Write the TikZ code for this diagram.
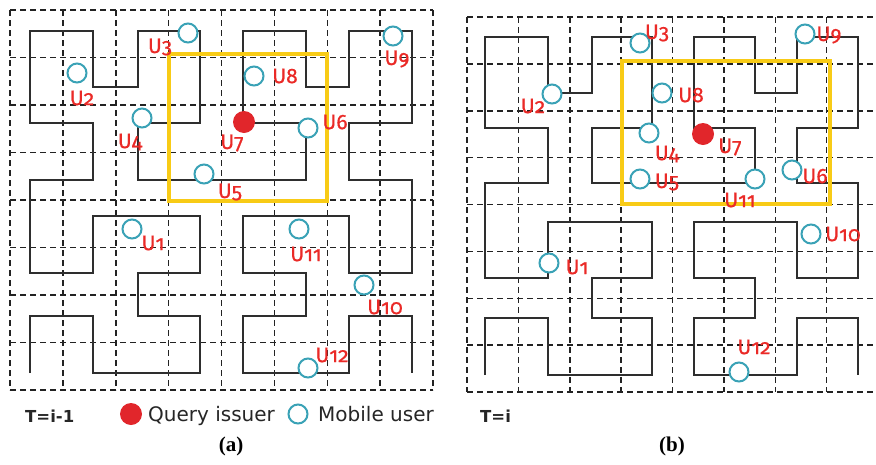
\documentclass[tikz,border=0pt]{standalone}
\usepackage{fontspec}
\setmainfont{DejaVu Sans}
\newfontfamily\labfont[Numbers=OldStyle, FakeBold=0.6]{Fira Sans}
\newfontfamily\capfont{Liberation Serif}

\definecolor{gridc}{HTML}{222222}
\definecolor{curvec}{HTML}{2E2E2E}
\definecolor{userc}{HTML}{3AA2B6}
\definecolor{issuerc}{HTML}{E1262B}
\definecolor{labc}{HTML}{EA2A27}
\definecolor{areac}{HTML}{F8CB16}

% corner points of the order-3 Hilbert curve, as column/row indices
\newcommand\hilbertpts{1/8,1/7,2/7,2/8,4/8,4/7,3/7,3/6,4/6,4/5,2/5,2/6,1/6,1/4,2/4,2/3,1/3,1/1,2/1,2/2,3/2,3/1,4/1,4/3,3/3,3/4,6/4,6/3,5/3,5/1,6/1,6/2,7/2,7/1,8/1,8/3,7/3,7/4,8/4,8/6,7/6,7/5,5/5,5/6,6/6,6/7,5/7,5/8,7/8,7/7,8/7,8/8}

\tikzset{
  gridline/.style={draw=gridc, line width=1.5pt, dash pattern=on 6pt off 4pt},
  curveline/.style={draw=curvec, line width=1.5pt, line join=miter},
  area/.style={draw=areac, line width=4.5pt},
  user/.style={circle, draw=userc, line width=2pt, fill=white, minimum size=19pt, inner sep=0pt},
  issuer/.style={circle, fill=issuerc, minimum size=22pt, inner sep=0pt},
  ulab/.style={text=labc, font=\labfont\fontsize{21}{22}\selectfont, inner sep=0pt},
  legtext/.style={font=\fontsize{20}{20}\selectfont, text=black!85, inner sep=0pt, anchor=base west},
  timetext/.style={font=\bfseries\fontsize{16.5}{18}\selectfont, text=black!85, inner sep=0pt, anchor=base west},
  captext/.style={font=\capfont\bfseries\fontsize{21}{22}\selectfont, inner sep=0pt},
}

\begin{document}
\begin{tikzpicture}[x=1pt, y=-1pt]
\useasboundingbox (0,0) rectangle (876,464);
\clip (0,0) rectangle (876,464);

% ---------------- panel (a): T = i-1 ----------------
\foreach \i in {0,...,8} {
  \draw[gridline] ({10+\i*52.875},10) -- ({10+\i*52.875},390);
  \draw[gridline] (10,{10+\i*47.5}) -- (433,{10+\i*47.5});
}
\foreach \c/\r [count=\k] in \hilbertpts {
  \pgfmathsetmacro\px{{30,93,138,200,243,306,349,412}[\c-1]}
  \pgfmathsetmacro\py{{31,87,123,180,216,273,316,373}[\r-1]}
  \coordinate (a\k) at (\px,\py);
}
\draw[curveline] (a1) \foreach \k in {2,...,52} { -- (a\k) };
\draw[area] (169,54) rectangle (327,201);

\foreach \n/\x/\y/\lx/\ly in {
  3/188/33/160/47, 2/77/73/82/98, 8/254/76/285/76, 9/393/36/397/59,
  4/142/118/130/142, 6/308/128/335/122, 5/204/174/230/192,
  1/132/229/153/243, 11/299/229/306/254, 10/364/285/385/307,
  12/308/368/332/355} {
  \node[user] (ua\n) at (\x,\y) {};
  \node[ulab] (la\n) at (\lx,\ly) {U\n};
}
\node[issuer] (ua7) at (244,122) {};
\node[ulab] (la7) at (232,143) {U7};

% legend
\node[timetext] (ta) at (25,422) {T=i-1};
\node[issuer] (legq) at (131,414) {};
\node[legtext] (legqt) at (148,421) {Query issuer};
\node[user] (legm) at (298,414) {};
\node[legtext] (legmt) at (318,421) {Mobile user};
\node[captext] (capa) at (231,446) {(a)};

% ---------------- panel (b): T = i ----------------
\foreach \i in {0,...,8} {
  \draw[gridline] ({467+\i*51.375},17) -- ({467+\i*51.375},392);
  \draw[gridline] (467,{17+\i*46.875}) -- (880,{17+\i*46.875});
}
\foreach \c/\r [count=\k] in \hilbertpts {
  \pgfmathsetmacro\px{{485,548,592,652,694,755,797,858}[\c-1]}
  \pgfmathsetmacro\py{{37,93,128,183,222,278,318,375}[\r-1]}
  \coordinate (b\k) at (\px,\py);
}
\draw[curveline] (b1) \foreach \k in {2,...,52} { -- (b\k) };
\draw[area] (622,61) rectangle (830,204);

\foreach \n/\x/\y/\lx/\ly in {
  3/640/43/657/33, 9/805/34/829/35, 2/552/94/533/106, 8/662/93/691/95,
  4/649/133/667/154, 5/640/179/667/182, 11/755/179/740/200,
  6/792/170/815/176, 10/811/234/843/234, 1/549/263/577/267,
  12/739/372/754/347} {
  \node[user] (ub\n) at (\x,\y) {};
  \node[ulab] (lb\n) at (\lx,\ly) {U\n};
}
\node[issuer] (ub7) at (703,134) {};
\node[ulab] (lb7) at (730,147) {U7};

\node[timetext] (tb) at (480,422) {T=i};
\node[captext] (capb) at (672,446) {(b)};
\end{tikzpicture}
\end{document}
